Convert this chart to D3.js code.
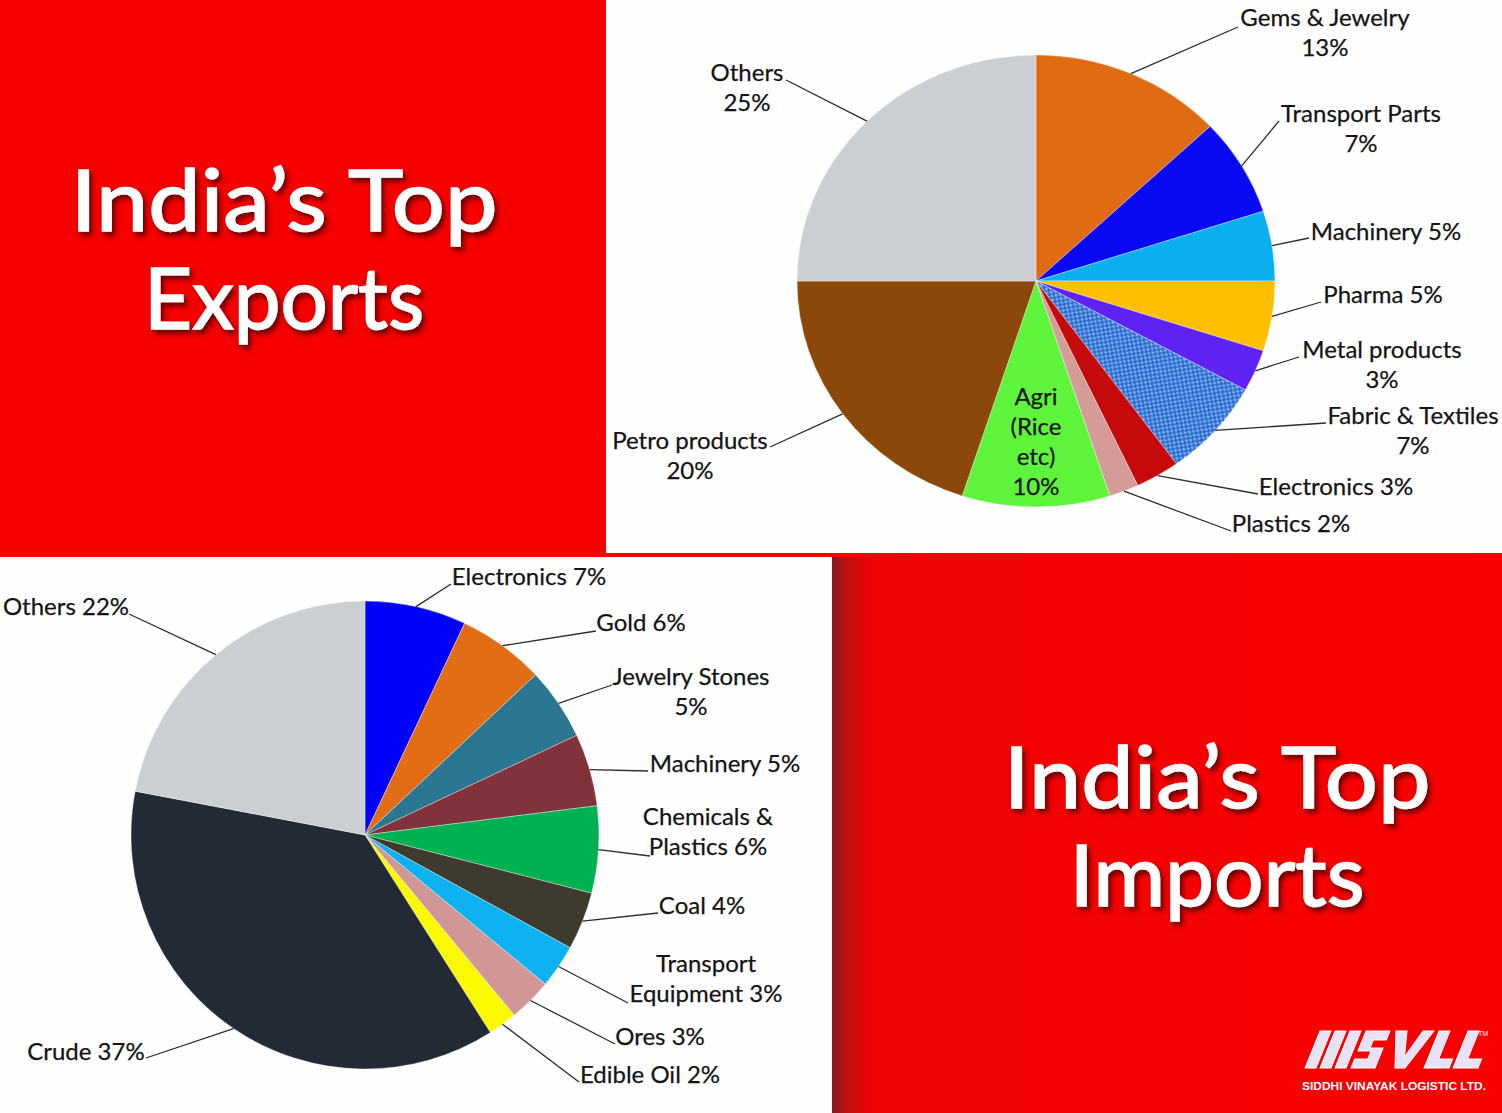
<!DOCTYPE html>
<html><head><meta charset="utf-8">
<script src="https://cdn.jsdelivr.net/npm/d3@7"></script>
<style>body{margin:0;background:#fff}svg{display:block}</style>
</head><body><svg id="c" width="1502" height="1113"></svg>
<script>
// ---------- DATA ----------
const exportCategories = ["Gems & Jewelry","Transport Parts","Machinery","Pharma","Metal products","Fabric & Textiles","Electronics","Plastics","Agri (Rice etc)","Petro products","Others"];
const exportValues = [13,7,5,5,3,7,3,2,10,20,25];
const exportLabelLines = [["Gems & Jewelry","{v}%"],["Transport Parts","{v}%"],["Machinery {v}%"],["Pharma {v}%"],["Metal products","{v}%"],["Fabric & Textiles","{v}%"],["Electronics {v}%"],["Plastics {v}%"],["Agri","(Rice","etc)","{v}%"],["Petro products","{v}%"],["Others","{v}%"]];

const importCategories = ["Electronics","Gold","Jewelry Stones","Machinery","Chemicals & Plastics","Coal","Transport Equipment","Ores","Edible Oil","Crude","Others"];
const importValues = [7,6,5,5,6,4,3,3,2,37,22];
const importLabelLines = [["Electronics {v}%"],["Gold {v}%"],["Jewelry Stones","{v}%"],["Machinery {v}%"],["Chemicals &","Plastics {v}%"],["Coal {v}%"],["Transport","Equipment {v}%"],["Ores {v}%"],["Edible Oil {v}%"],["Crude {v}%"],["Others {v}%"]];

// ---------- STYLE / LAYOUT ----------
const exportColors = ["#e06b12","#0a0af2","#0db0ee","#fdc000","#5e22f2","url(#tex)","#c40a0a","#d49b98","#5ef43c","#8c4809","url(#grayGrad)"];
const importColors = ["#0000fb","#e36d14","url(#stoneGrad)","#82323a","#00b153","#3e3b2e","#0cb1ef","#d19696","#fbf900","#222a35","url(#grayGrad2)"];

// label layout: centre x, first baseline, leader end (null = inside, no leader)
const exportLabelLayout = [
  {cx:1325,b:26, ex:1238,ey:27},
  {cx:1361,b:122,ex:1279,ey:121},
  {cx:1386,b:240,ex:1309,ey:238},
  {cx:1383,b:303,ex:1321,ey:302},
  {cx:1382,b:358,ex:1299,ey:357},
  {cx:1413,b:424,ex:1326,ey:423},
  {cx:1336,b:495,ex:1258,ey:494},
  {cx:1291,b:532,ex:1231,ey:531},
  {cx:1036,b:405,ex:null},
  {cx:690, b:449,ex:770,ey:447},
  {cx:747, b:81, ex:786,ey:80}
];
const importLabelLayout = [
  {cx:529,b:585, ex:451,ey:584},
  {cx:641,b:631, ex:596,ey:631},
  {cx:691,b:685, ex:612,ey:685},
  {cx:725,b:772, ex:648,ey:771},
  {cx:708,b:825, ex:650,ey:856},
  {cx:702,b:914, ex:658,ey:913},
  {cx:706,b:972, ex:628,ey:1003},
  {cx:660,b:1045,ex:615,ey:1044},
  {cx:650,b:1083,ex:579,ey:1082},
  {cx:86, b:1060,ex:146,ey:1058},
  {cx:66, b:615, ex:129,ey:614}
];

const svg = d3.select("#c");
const defs = svg.append("defs");

// textile pattern
const pat = defs.append("pattern").attr("id","tex").attr("width",6).attr("height",6)
  .attr("patternUnits","userSpaceOnUse").attr("patternTransform","rotate(35)");
pat.append("rect").attr("width",6).attr("height",6).attr("fill","#3a7ad8");
pat.append("rect").attr("x",0).attr("y",0).attr("width",2.5).attr("height",2).attr("fill","#86b6f4");
pat.append("rect").attr("x",3).attr("y",3).attr("width",2.5).attr("height",2).attr("fill","#7dafef");
pat.append("rect").attr("x",3).attr("y",0).attr("width",1.5).attr("height",1.5).attr("fill","#1d52ae");
pat.append("rect").attr("x",0).attr("y",3).attr("width",1.5).attr("height",1.5).attr("fill","#2159b8");

// gray gradients
[["grayGrad",1036,281],["grayGrad2",365,835]].forEach(([id,x,y])=>{
  const g = defs.append("radialGradient").attr("id",id).attr("gradientUnits","userSpaceOnUse")
    .attr("cx",x).attr("cy",y).attr("r",240);
  g.append("stop").attr("offset","0").attr("stop-color","#dfe2e4");
  g.append("stop").attr("offset","0.85").attr("stop-color","#d5d8db");
  g.append("stop").attr("offset","1").attr("stop-color","#cccfd2");
});
// jewelry stone gradient
const sg = defs.append("linearGradient").attr("id","stoneGrad").attr("gradientUnits","userSpaceOnUse")
  .attr("x1",560).attr("y1",660).attr("x2",610).attr("y2",760);
[["0","#2b7690"],["0.2","#4b9fba"],["0.38","#2c7a95"],["0.55","#a3d4e3"],["0.7","#4aa3bf"],["0.85","#2f819e"],["1","#6fb8cf"]]
  .forEach(([o,c])=>sg.append("stop").attr("offset",o).attr("stop-color",c));

// shadow gradient for bottom-right panel
const sh = defs.append("linearGradient").attr("id","edge").attr("x1","0").attr("x2","1").attr("y1","0").attr("y2","0");
sh.append("stop").attr("offset","0").attr("stop-color","#8a1c1c");
sh.append("stop").attr("offset","0.025").attr("stop-color","#c30f0f");
sh.append("stop").attr("offset","0.06").attr("stop-color","#f20303");
sh.append("stop").attr("offset","1").attr("stop-color","#fa0000");

const f = defs.append("filter").attr("id","ds").attr("x","-10%").attr("y","-20%").attr("width","130%").attr("height","150%");
f.append("feDropShadow").attr("dx",3).attr("dy",4).attr("stdDeviation",2.5).attr("flood-color","#3a0000").attr("flood-opacity",0.75);

// ---------- PANELS ----------
svg.append("rect").attr("x",0).attr("y",0).attr("width",1502).attr("height",1113).attr("fill","#f60000");
svg.append("rect").attr("x",606).attr("y",0).attr("width",896).attr("height",553).attr("fill","#fefefe");
svg.append("rect").attr("x",0).attr("y",557).attr("width",832).attr("height",556).attr("fill","#fefefe");
svg.append("rect").attr("x",832).attr("y",557).attr("width",670).attr("height",556).attr("fill","url(#edge)");

// ---------- TITLES ----------
function title(cx, b1, b2, w1, w2, l1, l2){
  const g = svg.append("g").attr("filter","url(#ds)");
  [[l1,b1,w1],[l2,b2,w2]].forEach(([t,b,w])=>{
    g.append("text").attr("x",cx).attr("y",b).attr("text-anchor","middle")
      .attr("font-family","Lato").attr("font-size",86).attr("font-weight",400)
      .attr("fill","#fff").attr("stroke","#fff").attr("stroke-width",1.6)
      .attr("textLength",w).attr("lengthAdjust","spacingAndGlyphs").text(t);
  });
}
title(284, 231, 329, 427, 280, "India\u2019s Top", "Exports");
title(1217, 808, 906, 427, 295, "India\u2019s Top", "Imports");

// ---------- PIES ----------
function drawPie(cats, vals, colors, lines, layout, cx, cy, rx, ry){
  const pie = d3.pie().sort(null).value(d=>d.v);
  const data = pie(cats.map((c,i)=>({c, v:vals[i], i})));
  const arc = d3.arc().innerRadius(0).outerRadius(rx);
  const g = svg.append("g").attr("transform",`translate(${cx},${cy}) scale(1,${ry/rx})`);
  g.selectAll("path").data(data).join("path")
    .attr("d",arc).attr("fill",(d,i)=>colors[i])
    .attr("stroke","#ffffff").attr("stroke-opacity",0.45).attr("stroke-width",0.8);
  const lg = svg.append("g");
  data.forEach((d,i)=>{
    const L = layout[i];
    const a = (d.startAngle + d.endAngle)/2;
    const sx = cx + rx*Math.sin(a), sy = cy - ry*Math.cos(a);
    if (L.ex !== null){
      lg.append("path").attr("d",`M${sx},${sy}L${L.ex},${L.ey}`)
        .attr("fill","none").attr("stroke","#2b2b2b").attr("stroke-width",1.3);
    }
    const t = lg.append("text").attr("text-anchor","middle")
      .attr("font-family","Lato").attr("font-size",24).attr("fill","#141414")
      .attr("stroke","#141414").attr("stroke-width",0.25);
    lines[i].forEach((ln,k)=>{
      t.append("tspan").attr("x",L.cx).attr("y",L.b + k*30).text(ln.replace("{v}", d.data.v));
    });
  });
}
drawPie(exportCategories, exportValues, exportColors, exportLabelLines, exportLabelLayout, 1036, 281, 239, 226);
drawPie(importCategories, importValues, importColors, importLabelLines, importLabelLayout, 365, 835, 234, 234);

// ---------- LOGO ----------
const logo = svg.append("g").attr("transform","translate(1306,1031)");
const sk = logo.append("g").attr("transform","skewX(-22)");
const lf = "#e8e2f7";
[0,15,30].forEach(x=>{
  sk.append("rect").attr("x",x+14).attr("y",0).attr("width",11).attr("height",37)
    .attr("fill",lf).attr("stroke","#fff").attr("stroke-width",1);
});
sk.append("path").attr("d","M60,0 h24 v9 h-13 v8 h13 v20 h-24 v-9 h13 v-8 h-13 z")
  .attr("fill",lf).attr("stroke","#fff").attr("stroke-width",1);
sk.append("path").attr("d","M90,0 h11 l8,26 l8,-26 h11 l-14,37 h-10 z")
  .attr("fill",lf).attr("stroke","#fff").attr("stroke-width",1);
sk.append("path").attr("d","M133,0 h11 v28 h14 v9 h-25 z")
  .attr("fill",lf).attr("stroke","#fff").attr("stroke-width",1);
sk.append("path").attr("d","M162,0 h11 v28 h14 v9 h-25 z")
  .attr("fill",lf).attr("stroke","#fff").attr("stroke-width",1);
logo.append("text").attr("x",172).attr("y",5).attr("font-family","Liberation Sans").attr("font-size",7).attr("fill","#fff").text("TM");
svg.append("text").attr("x",1394).attr("y",1090).attr("text-anchor","middle")
  .attr("font-family","Liberation Sans").attr("font-weight",700).attr("font-size",11.5)
  .attr("fill","#fff").attr("textLength",184).attr("lengthAdjust","spacingAndGlyphs")
  .text("SIDDHI VINAYAK LOGISTIC LTD.");
</script></body></html>
